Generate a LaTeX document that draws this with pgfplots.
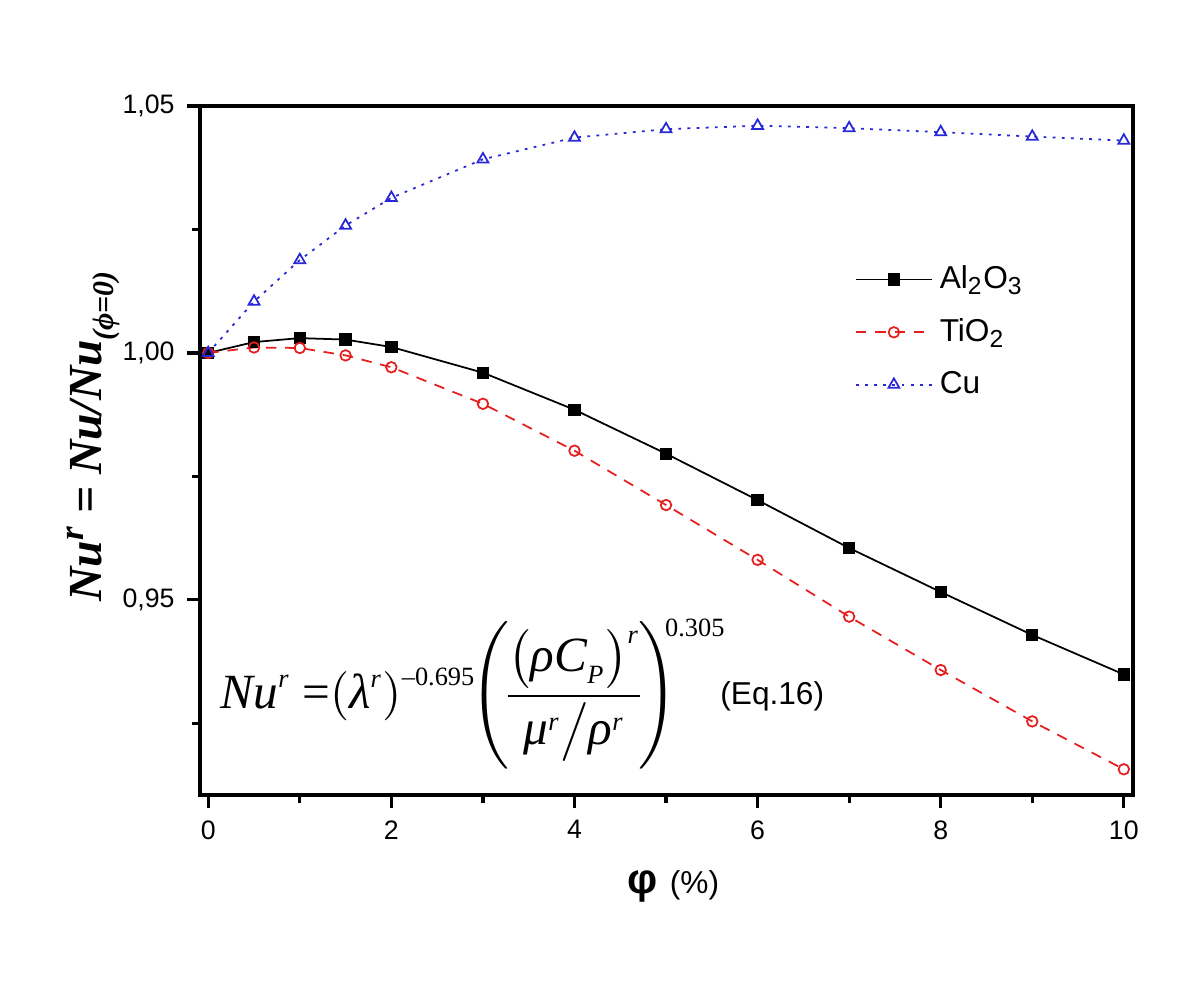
\documentclass[border=0pt]{standalone}
\usepackage{mathptmx}
\usepackage[no-math]{fontspec}
\setmainfont{Liberation Sans}
\newfontfamily\tnr{Liberation Serif}
\usepackage{pgfplots}
\pgfplotsset{compat=1.18}
\definecolor{cured}{RGB}{230,30,30}
\definecolor{cublue}{RGB}{40,40,215}
\newcommand\ex[1]{\mbox{\tnr\fontsize{7.5}{8}\selectfont #1}}
\newcommand\ti[1]{\mbox{\tnr\itshape #1}}

\begin{document}
\begin{tikzpicture}
\useasboundingbox (0,0) rectangle (12cm,10cm);
\begin{axis}[at={(2cm,2.05cm)}, anchor=south west,
  width=9.33cm, height=6.89cm, scale only axis,
  xmin=-0.09, xmax=10.1, ymin=0.9105, ymax=1.05,
  xtick={0,2,...,10}, minor xtick={1,3,...,9},
  ytick={0.95,1,1.05}, minor ytick={0.925,0.975,1.025},
  tick align=outside, xtick pos=bottom, ytick pos=left,
  major tick length=0.13cm, minor tick length=0.08cm,
  every tick/.style={black, line width=0.9pt},
  axis line style={line width=1.2pt},
  /pgf/number format/assume math mode=true,
  tick label style={font=\fontsize{7.6}{9}\selectfont},
  y tick label style={/pgf/number format/.cd, fixed, fixed zerofill, precision=2, use comma},
  xlabel={\fontsize{12}{13}\selectfont\bfseries φ \fontsize{9}{10}\selectfont\mdseries (\%)},
  xlabel style={yshift=-2pt, xshift=2pt},
  ylabel={\tnr\bfseries\itshape\fontsize{13.5}{15}\selectfont Nu\textsuperscript{r} = Nu/Nu\raisebox{-0.55ex}{\fontsize{8.5}{9}\selectfont(ϕ=0)}},
  ylabel style={yshift=-6pt, xshift=4pt},
  legend style={draw=none, fill=none, at={(0.69,0.79)}, anchor=north west,
    font=\fontsize{9}{10.5}\selectfont, row sep=3pt},
  legend cell align=left,
  legend image code/.code={\draw[mark repeat=2,mark phase=2] plot coordinates {(0cm,0cm) (0.38cm,0cm) (0.76cm,0cm)};},
  clip=false]
\addplot[black, line width=0.5pt, mark=square*, mark size=1.5pt] coordinates {
 (0,1.0000) (0.5,1.0022) (1,1.0030) (1.5,1.0027) (2,1.0012) (3,0.9960)
 (4,0.9885) (5,0.9796) (6,0.9702) (7,0.9605) (8,0.9516) (9,0.9429) (10,0.9349)};
\addlegendentry{Al\textsubscript{2}O\textsubscript{3}}
\addplot[cured, line width=0.5pt, dash pattern=on 3pt off 2.5pt, mark=o, mark size=1.5pt, mark options={solid}] coordinates {
 (0,1.0000) (0.5,1.0011) (1,1.0010) (1.5,0.9995) (2,0.9971) (3,0.9897)
 (4,0.9802) (5,0.9692) (6,0.9581) (7,0.9466) (8,0.9358) (9,0.9254) (10,0.9157)};
\addlegendentry{TiO\textsubscript{2}}
\addplot[cublue, line width=0.5pt, dash pattern=on 0.8pt off 1.8pt, mark=triangle, mark size=1.8pt, mark options={solid}] coordinates {
 (0,1.0000) (0.5,1.0104) (1,1.0188) (1.5,1.0258) (2,1.0314) (3,1.0392)
 (4,1.0436) (5,1.0453) (6,1.0460) (7,1.0455) (8,1.0447) (9,1.0438) (10,1.0430)};
\addlegendentry{Cu}
\node[anchor=base west, inner sep=0pt, font=\fontsize{14}{16}\selectfont] at (axis cs:0.13,0.9281)
  {$\displaystyle \ti{Nu}^{\ex{\itshape r}}\mbox{\tnr\ =}\!\left(\ti{λ}^{\ex{\itshape r}}\right)^{\ex{–0.695}}\!\!\left(\!\frac{\bigl(\ti{ρC}_{\ex{\itshape P}}\bigr)^{\ex{\itshape r}}}{\ti{μ}^{\ex{\itshape r}}\big/\ti{ρ}^{\ex{\itshape r}}}\!\right)^{\mkern-6mu\ex{0.305}}$};
\node[font=\fontsize{9}{10}\selectfont] at (axis cs:6.16,0.9304) {(Eq.16)};
\end{axis}
\end{tikzpicture}
\end{document}
